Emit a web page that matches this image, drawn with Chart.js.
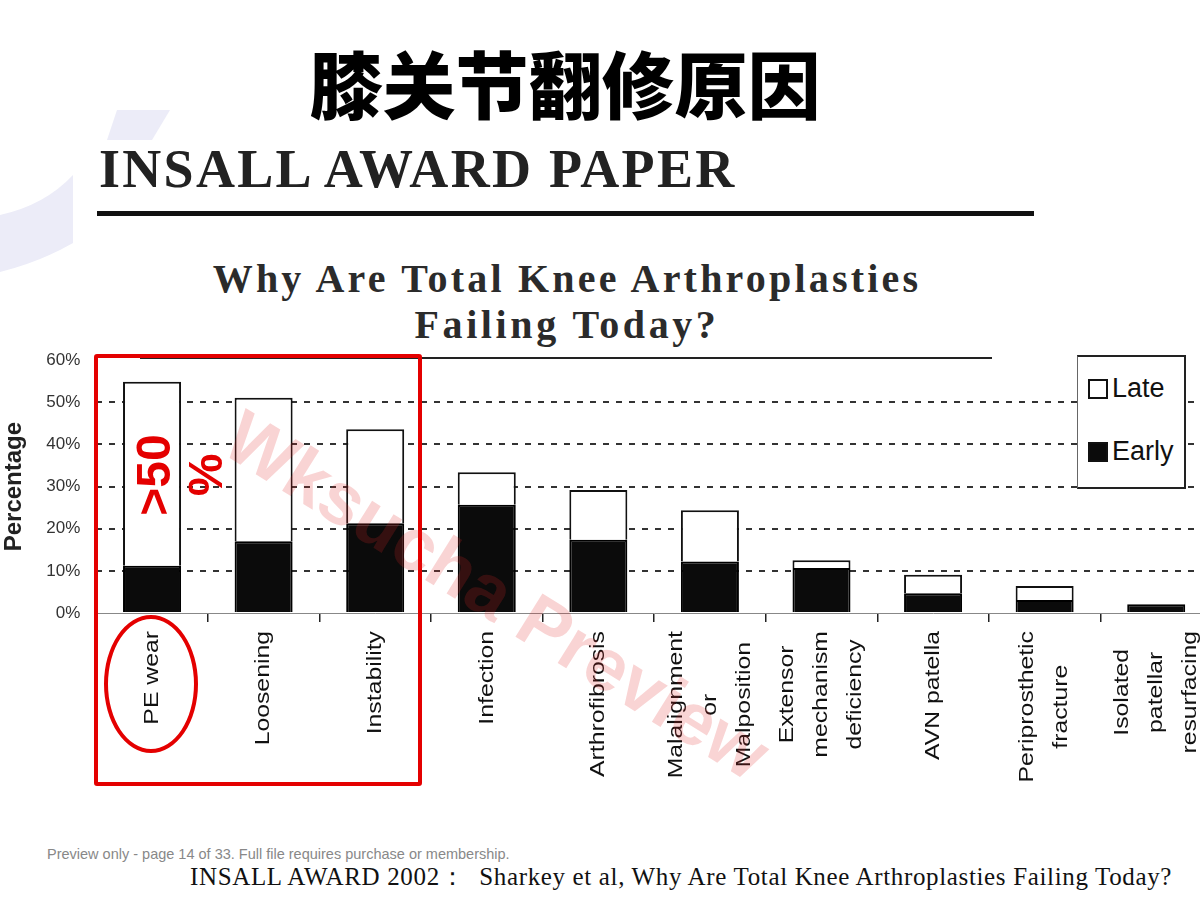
<!DOCTYPE html>
<html>
<head>
<meta charset="utf-8">
<title>膝关节翻修原因</title>
<script src="https://cdn.jsdelivr.net/npm/chart.js@4.4.1/dist/chart.umd.min.js"></script>
<style>
  html, body { margin: 0; padding: 0; background: #fff; }
  body { width: 1200px; height: 900px; overflow: hidden; position: relative; font-family: "Liberation Sans", Arial, sans-serif; }
  .abs { position: absolute; }
  #title { left: 0; width: 1130px; top: 28px; text-align: center; font: 900 73px "Noto Sans CJK SC", sans-serif; color: #000; }
  #paper { left: 99px; top: 138px; font: bold 54px "Liberation Serif", "Times New Roman", serif; letter-spacing: 2.3px; color: #222; }
  #paperRule { left: 97px; top: 211px; width: 937px; height: 5px; background: #111; }
  #sub { left: 0; width: 1134px; top: 256px; text-align: center; font: bold 40px/46px "Liberation Serif", serif; color: #2b2b2b; }
  #sub .l1 { letter-spacing: 3.2px; }
  #sub .l2 { letter-spacing: 3.6px; }
  #subRule { left: 140px; top: 357px; width: 852px; height: 1.5px; background: #222; }
  #chartBox { left: 0; top: 334px; width: 1212px; height: 466px; }
  #legend { left: 1077px; top: 355px; width: 106px; height: 130px; background: #fff; border: 2px solid #222; border-left: 1px solid #666; }
  .item { position: absolute; left: 10px; font-size: 27px; color: #111; display: flex; align-items: center; }
  .sw { width: 16px; height: 16px; border: 2px solid #111; margin-right: 4px; }
  #redBox { left: 94px; top: 354px; width: 320px; height: 424px; border: 4px solid #e40000; border-radius: 3px; }
  #ellipse { left: 104px; top: 615px; width: 86px; height: 130px; border: 4px solid #e40000; border-radius: 50%; }
  #over50 { left: 180px; top: 475px; transform: translate(-50%, -50%) rotate(-90deg); font: bold 48px/52px "Liberation Sans", Arial, sans-serif; color: #e40000; text-align: center; white-space: nowrap; }
  #water { left: 497px; top: 595px; transform: translate(-50%, -50%) rotate(32deg); font: bold 74px "Liberation Sans", Arial, sans-serif; color: rgba(225, 40, 40, 0.2); white-space: nowrap; }
  #preview { left: 47px; top: 846px; font-size: 14.5px; color: #888; }
  #cite { left: 190px; top: 860px; font: 25px "Liberation Serif", "Times New Roman", serif; letter-spacing: 0.65px; color: #111; white-space: nowrap; }
</style>
</head>
<body>
<svg class="abs" style="left:0;top:0" width="200" height="300">
  <path d="M117,110 L170,110 L152,140 L107,140 Z" fill="#ececf8"/>
  <path d="M73,175 L73,243 Q40,262 0,272 L0,215 Q45,205 73,175 Z" fill="#ececf8"/>
</svg>
<div id="title" class="abs">膝关节翻修原因</div>
<div id="paper" class="abs">INSALL AWARD PAPER</div>
<div id="paperRule" class="abs"></div>
<div id="sub" class="abs"><span class="l1">Why Are Total Knee Arthroplasties</span><br><span class="l2">Failing Today?</span></div>
<div id="chartBox" class="abs"><canvas id="chart"></canvas></div>
<div id="subRule" class="abs"></div>
<div id="legend" class="abs"></div>
<div id="redBox" class="abs"></div>
<div id="ellipse" class="abs"></div>
<div id="over50" class="abs">&gt;50<br>%</div>
<div id="water" class="abs">Wksucha Preview</div>
<div id="preview" class="abs">Preview only - page 14 of 33. Full file requires purchase or membership.</div>
<div id="cite" class="abs">INSALL AWARD 2002：&nbsp; Sharkey et al, Why Are Total Knee Arthroplasties Failing Today?</div>

<script>
// reasons for revision, each label split into its printed lines
const reasons = [
    ["PE wear"],
    ["Loosening"],
    ["Instability"],
    ["Infection"],
    ["Arthrofibrosis"],
    ["Malalignment", "or", "Malposition"],
    ["Extensor", "mechanism", "deficiency"],
    ["AVN patella"],
    ["Periprosthetic", "fracture"],
    ["Isolated", "patellar", "resurfacing"]
];
// percentages
const earlyPct = [11.2, 17.0, 21.3, 25.7, 17.4, 12.2, 10.7, 4.7, 3.1, 2.1];
const latePct  = [43.7, 34.1, 22.3, 7.7, 11.8, 12.2, 1.8, 4.4, 3.3, 0];
const yTicks = [0, 10, 20, 30, 40, 50, 60];

const STRETCH = 1.18;

// x labels: rotated, lines centred on each other like in the paper figure
const rotatedLabels = {
    id: "rotatedLabels",
    afterDraw(chart) {
        const xs = chart.scales.x;
        const ctx = chart.ctx;
        ctx.save();
        ctx.font = '21px "Liberation Sans", Arial, sans-serif';
        ctx.fillStyle = "#111";
        ctx.textAlign = "center";
        ctx.textBaseline = "middle";
        chart.data.labels.forEach((lines, i) => {
            const px = xs.getPixelForValue(i);
            const longest = Math.max(...lines.map(l => ctx.measureText(l).width)) * STRETCH;
            const top = xs.top + 18;
            ctx.save();
            ctx.translate(px, top + longest / 2);
            ctx.rotate(-Math.PI / 2);
            ctx.scale(STRETCH, 1);
            lines.forEach((l, j) => ctx.fillText(l, 0, (j - (lines.length - 1) / 2) * 34));
            ctx.restore();
        });
        ctx.restore();
    }
};

const chart = new Chart(document.getElementById("chart"), {
    type: "bar",
    data: {
        labels: reasons,
        datasets: [
            { label: "Early", data: earlyPct, backgroundColor: "#0b0b0b", borderColor: "#000", borderWidth: 2 },
            { label: "Late", data: latePct, backgroundColor: "#fff", borderColor: "#111", borderWidth: 2 }
        ]
    },
    options: {
        responsive: true,
        maintainAspectRatio: false,
        animation: false,
        layout: { padding: { top: 13, left: 0, right: 0, bottom: 0 } },
        datasets: { bar: { barPercentage: 0.52, categoryPercentage: 1 } },
        plugins: { legend: { display: false }, tooltip: { enabled: false } },
        scales: {
            x: {
                stacked: true,
                ticks: { display: false },
                grid: { offset: true, drawOnChartArea: false, drawTicks: true, tickLength: 9, color: "#222", lineWidth: 1.5 },
                border: { display: true, color: "#888", width: 1 },
                afterFit: s => { s.height = 187; }
            },
            y: {
                stacked: true,
                min: 0,
                max: 60,
                afterBuildTicks: s => { s.ticks = yTicks.map(v => ({ value: v })); },
                ticks: {
                    callback: v => v + "%",
                    padding: 16,
                    color: "#333",
                    font: { family: '"Liberation Sans", Arial, sans-serif', size: 17 }
                },
                grid: {
                    drawTicks: false,
                    lineWidth: 2,
                    color: c => (c.tick.value === 0 || c.tick.value === 60) ? "rgba(0,0,0,0)" : "#333"
                },
                border: { display: false, dash: [6, 7] },
                title: {
                    display: true,
                    text: "Percentage",
                    padding: 0,
                    color: "#222",
                    font: { family: '"Liberation Sans", Arial, sans-serif', size: 24, weight: "bold" }
                },
                afterFit: s => { s.width = 96.25; }
            }
        }
    },
    plugins: [rotatedLabels]
});

// legend box, late on top like the original
const legend = document.getElementById("legend");
chart.data.datasets.slice().reverse().forEach((ds, i) => {
    const item = document.createElement("div");
    item.className = "item";
    item.style.top = (i === 0 ? 16 : 79) + "px";
    item.innerHTML = `<span class="sw" style="background:${ds.backgroundColor}"></span>${ds.label}`;
    legend.appendChild(item);
});
</script>
</body>
</html>
